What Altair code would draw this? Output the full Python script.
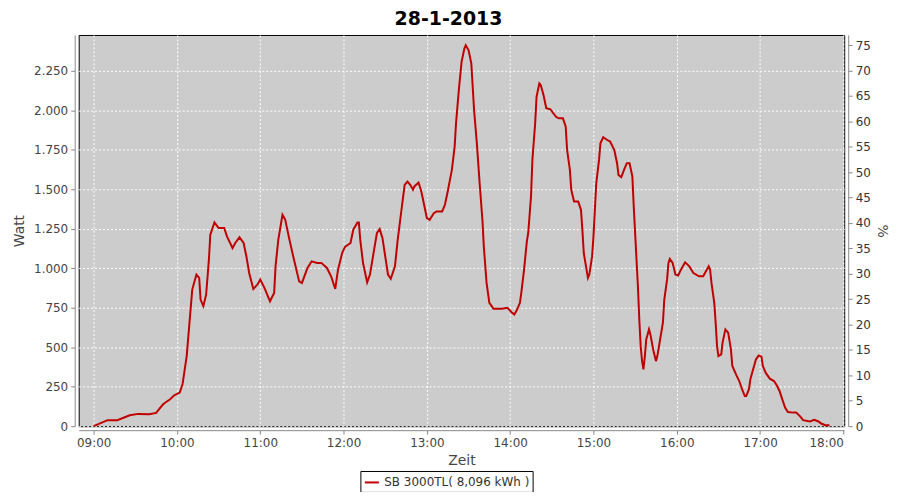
import altair as alt
import pandas as pd

# minutes after 09:00 and power (W)
minutes = [0, 10, 17, 26, 32, 40, 45, 47, 50, 55, 58, 62, 64, 67, 69, 71, 74, 76, 77, 79, 81,
           83, 84, 87, 90, 94, 96, 100, 102, 105, 108, 110, 112, 115, 118, 120, 123, 127, 130,
           131, 133, 136, 138, 141, 144, 148, 150, 154, 157, 161, 164, 168, 171, 174, 176, 179,
           181, 185, 187, 190, 191, 192, 194, 197, 199, 202, 204, 206, 208, 210, 212, 214, 217,
           219, 222, 224, 226, 228, 230, 231, 234, 236, 238, 240, 242, 245, 247, 251, 253, 255,
           258, 260, 261, 263, 265, 267, 268, 270, 272, 273, 274, 276, 278, 280, 281, 283, 285,
           288, 294, 298, 301, 303, 305, 307, 308, 310, 312, 313, 315, 316, 318, 319, 321, 322,
           324, 326, 329, 333, 335, 338, 340, 341, 343, 344, 346, 349, 351, 352, 353, 355, 356,
           357, 359, 360, 361, 362, 364, 365, 367, 370, 372, 375, 377, 378, 380, 382, 384, 386,
           388, 389, 390, 392, 393, 394, 395, 396, 397, 398, 400, 401, 403, 405, 406, 408, 410,
           411, 413, 414, 415, 417, 419, 421, 423, 426, 429, 432, 436, 439, 441, 443, 444, 445,
           447, 448, 449, 450, 452, 453, 455, 457, 459, 460, 463, 465, 467, 469, 470, 472, 473,
           475, 477, 479, 481, 482, 484, 487, 490, 492, 494, 496, 498, 500, 504, 506, 509, 511,
           516, 519, 522, 524, 527, 530]
watts = [0, 38, 38, 69, 78, 76, 84, 107, 139, 170, 196, 213, 265, 444, 655, 865, 960, 939, 802,
         760, 833, 1055, 1212, 1290, 1255, 1255, 1202, 1128, 1160, 1196, 1160, 1075, 970, 869,
         897, 928, 876, 791, 844, 1012, 1181, 1339, 1307, 1181, 1065, 917, 907, 1002, 1044,
         1034, 1034, 1002, 949, 869, 991, 1097, 1135, 1160, 1244, 1290, 1290, 1181, 1034, 911,
         960, 1118, 1223, 1248, 1192, 1075, 960, 933, 1012, 1181, 1391, 1528, 1549, 1528, 1497,
         1518, 1543, 1486, 1402, 1318, 1307, 1349, 1360, 1360, 1402, 1486, 1623, 1770, 1918,
         2128, 2307, 2391, 2412, 2381, 2297, 2149, 2002, 1791, 1538, 1307, 1139, 907, 781, 743,
         743, 750, 722, 707, 739, 781, 844, 991, 1170, 1223, 1454, 1686, 1918, 2086, 2170, 2160,
         2097, 2013, 2006, 1959, 1949, 1949, 1896, 1749, 1623, 1497, 1423, 1423, 1370, 1244,
         1097, 991, 939, 960, 1075, 1202, 1370, 1538, 1686, 1791, 1829, 1812, 1802, 1749, 1665,
         1591, 1577, 1623, 1665, 1665, 1581, 1391, 1223, 886, 676, 507, 412, 360, 444, 549, 613,
         581, 486, 412, 444, 549, 655, 802, 928, 1034, 1059, 1034, 960, 954, 991, 1038, 1012,
         970, 949, 949, 981, 1012, 991, 907, 781, 655, 507, 444, 455, 529, 613, 592, 486, 381,
         322, 286, 234, 191, 191, 234, 297, 360, 423, 448, 440, 381, 339, 301, 286, 259, 223,
         170, 118, 90, 86, 86, 61, 38, 30, 40, 30, 17, 6, 6]

series_name = "SB 3000TL( 8,096 kWh )"
watt_ticks = [0, 250, 500, 750, 1000, 1250, 1500, 1750, 2000, 2250]
pct_ticks = [0, 5, 10, 15, 20, 25, 30, 35, 40, 45, 50, 55, 60, 65, 70, 75]
hour_ticks = [9, 10, 11, 12, 13, 14, 15, 16, 17, 18]

df = pd.DataFrame({
    "hour": [9 + m / 60 for m in minutes],
    "watt": watts,
    "series": series_name,
})
pct_df = pd.DataFrame({"pct": pct_ticks})

FONT = "DejaVu Sans"
LBL = "#444444"

x_axis = alt.Axis(
    values=hour_ticks,
    labelExpr="(datum.value < 10 ? '0' : '') + datum.value + ':00'",
    title="Zeit", offset=4, tickSize=4, tickColor="#888888", domainColor="#888888",
    labelFont=FONT, labelFontSize=12, labelColor=LBL, labelPadding=3,
    titleFont=FONT, titleFontSize=14, titleFontWeight="normal", titleColor=LBL, titlePadding=5,
    grid=True, gridColor="white", gridDash=[2, 2], gridOpacity=1, gridWidth=1,
)

line = alt.Chart(df).mark_line(strokeWidth=2, interpolate="linear").encode(
    x=alt.X("hour:Q", scale=alt.Scale(domain=[8.82, 18.01], nice=False, zero=False), axis=x_axis),
    y=alt.Y("watt:Q", scale=alt.Scale(domain=[0, 2477], nice=False),
            axis=alt.Axis(
                values=watt_ticks,
                labelExpr="replace(format(datum.value, ','), ',', '.')",
                title="Watt", offset=4, tickSize=4, tickColor="#888888", domainColor="#888888",
                labelFont=FONT, labelFontSize=12, labelColor=LBL, labelPadding=3,
                titleFont=FONT, titleFontSize=14, titleFontWeight="normal", titleColor=LBL,
                titlePadding=7,
                grid=True, gridColor="white", gridDash=[2, 2], gridOpacity=1, gridWidth=1,
            )),
    color=alt.Color("series:N", scale=alt.Scale(range=["#c00000"]),
                    legend=alt.Legend(
                        title=None, orient="none", legendX=283, legendY=438,
                        symbolType="stroke", symbolSize=200, symbolStrokeWidth=2,
                        labelFont=FONT, labelFontSize=12, labelColor="#333333",
                        strokeColor="black", fillColor="white", padding=3,
                        cornerRadius=0, labelOffset=4,
                    )),
)

pct = alt.Chart(pct_df).mark_rule(opacity=0).encode(
    y=alt.Y("pct:Q", scale=alt.Scale(domain=[0, 77], nice=False),
            axis=alt.Axis(
                values=pct_ticks, orient="right", title="%", offset=4, tickSize=4,
                tickColor="#888888", domainColor="#888888",
                labelFont=FONT, labelFontSize=12, labelColor="#333333", labelPadding=3,
                titleFont=FONT, titleFontSize=14, titleFontWeight="normal", titleColor=LBL,
                titlePadding=4, grid=False,
            )),
)

chart = alt.layer(line, pct).resolve_scale(y="independent").properties(
    width=769, height=393,
    padding={"left": 71, "top": 26, "right": 48, "bottom": 65},
    autosize=alt.AutoSizeParams(type="none"),
    title=alt.TitleParams("28-1-2013", font=FONT, fontSize=19, fontWeight="bold",
                          color="black", anchor="middle", dx=-13, offset=6),
).configure_view(fill="#cccccc", stroke="black", strokeWidth=1)

chart.save("out.html", embed_options={"renderer": "svg", "actions": False})
